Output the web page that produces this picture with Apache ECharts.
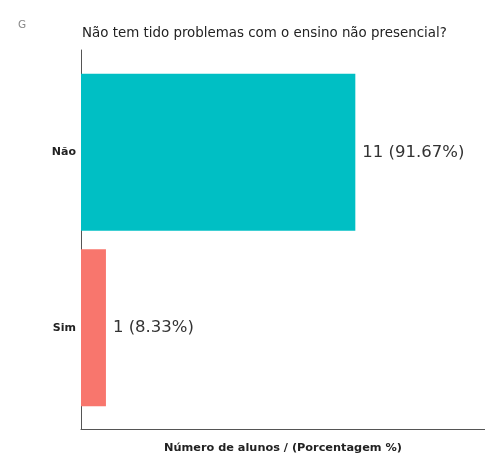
<!DOCTYPE html>
<html><head><meta charset="utf-8">
<script src="https://cdn.jsdelivr.net/npm/echarts@6/dist/echarts.min.js"></script>
<style>html,body{margin:0;padding:0;background:#fff}#c{width:485px;height:459px}</style>
</head><body><div id="c"></div>
<script>
const categories = ['Sim', 'Não'];
const counts = [1, 11];
const percents = [8.33, 91.67];
const colors = ['#F8766D', '#00BFC4'];
const xMax = 16.2;

const chart = echarts.init(document.getElementById('c'), null, {renderer: 'canvas'});
const font = 'DejaVu Sans, sans-serif';
chart.setOption({
  animation: false,
  backgroundColor: '#fff',
  title: [
    {text: 'Não tem tido problemas com o ensino não presencial?', left: 77, top: 22,
     textStyle: {fontFamily: font, fontSize: 13.4, fontWeight: 'normal', color: '#222'}},
    {text: 'G', left: 13, top: 15, textStyle: {fontFamily: font, fontSize: 10.5, fontWeight: 'normal', color: '#888'}}
  ],
  grid: [
    {left: 81, top: 50, right: 0, bottom: 26},
    {left: 81, top: 64.5, right: 0, height: 351}
  ],
  xAxis: [
    {gridIndex: 0, type: 'value', min: 0, max: xMax,
     axisLine: {show: true, lineStyle: {color: '#555', width: 1}}, axisTick: {show: false},
     axisLabel: {show: false}, splitLine: {show: false},
     name: 'Número de alunos / (Porcentagem %)', nameLocation: 'middle', nameGap: 14,
     nameTextStyle: {fontFamily: font, fontSize: 11.3, fontWeight: 'bold', color: '#222'}},
    {gridIndex: 1, type: 'value', min: 0, max: xMax, show: false}
  ],
  yAxis: [
    {gridIndex: 0, type: 'value', min: 0, max: 1,
     axisLine: {show: true, lineStyle: {color: '#555', width: 1}}, axisTick: {show: false},
     axisLabel: {show: false}, splitLine: {show: false}},
    {gridIndex: 1, type: 'category', data: categories,
     axisLine: {show: false}, axisTick: {show: false},
     axisLabel: {fontFamily: font, fontSize: 11, fontWeight: 'bold', color: '#222', margin: 5}}
  ],
  series: [{
    type: 'bar', xAxisIndex: 1, yAxisIndex: 1,
    barCategoryGap: '10.5%',
    data: counts.map((v, i) => ({value: v, itemStyle: {color: colors[i]}})),
    label: {show: true, position: 'right', distance: 7,
      fontFamily: font, fontSize: 16.5, color: '#333',
      formatter: p => counts[p.dataIndex] + ' (' + percents[p.dataIndex].toFixed(2) + '%)'}
  }]
});
</script></body></html>
